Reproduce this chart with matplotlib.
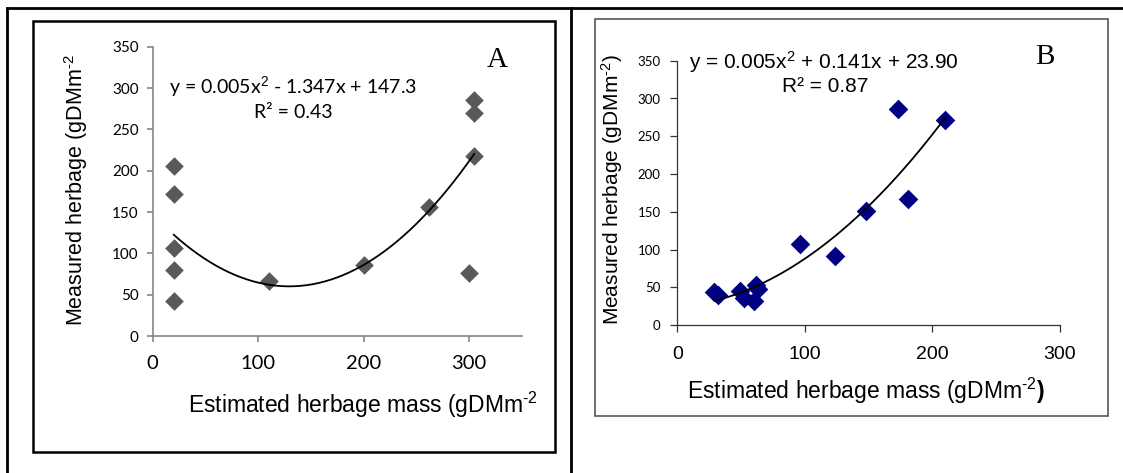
import matplotlib
matplotlib.use("Agg")
import matplotlib.pyplot as plt
import numpy as np
from matplotlib.patches import Rectangle
from matplotlib.lines import Line2D

plt.rcParams['font.family'] = ['Liberation Sans', 'DejaVu Sans']
plt.rcParams['mathtext.fontset'] = 'custom'
plt.rcParams['mathtext.rm'] = 'Liberation Sans'
plt.rcParams['mathtext.it'] = 'Liberation Sans:italic'
plt.rcParams['mathtext.bf'] = 'Liberation Sans:bold'

# panel A: estimated vs measured herbage
a_x = [20, 20, 20, 20, 20, 110, 200, 262, 300, 305, 305, 305]
a_y = [206, 172, 107, 80, 42, 66, 86, 156, 76, 285, 270, 218]
a_fit = [0.0052, -1.347, 147.3]
a_r2 = 0.43

# panel B
b_x = [29, 32, 49, 52, 60, 62, 63, 96, 124, 148, 173, 181, 210]
b_y = [44, 40, 45, 36, 32, 53, 48, 108, 92, 151, 286, 167, 271]
b_fit = [0.005, 0.141, 23.90]
b_r2 = 0.87

y_ticks = [0, 50, 100, 150, 200, 250, 300, 350]
a_xticks = [0, 100, 200, 300]
b_xticks = [0, 100, 200, 300]

W, H = 1123, 473
fig = plt.figure(figsize=(W / 100, H / 100), dpi=100)


def px(x, y):
    return x / W, 1 - y / H


def box(x0, y0, x1, y1):
    return [x0 / W, 1 - y1 / H, (x1 - x0) / W, (y1 - y0) / H]


unit = 'gDMm$^{\\text{-2}}$'

# table lines and the two chart frames
for xs, ys in [((7, W), (8, 8)), ((7, 7), (8, H)), ((571, 571), (8, H))]:
    fig.add_artist(Line2D([x / W for x in xs], [1 - y / H for y in ys],
                          color='black', lw=2, transform=fig.transFigure))
fig.add_artist(Rectangle(px(33, 452), 522 / W, 431 / H, fill=False,
                         ec='black', lw=1.8, transform=fig.transFigure))
fig.add_artist(Rectangle(px(595, 416), 513 / W, 397 / H, fill=False,
                         ec='#555555', lw=1.2, transform=fig.transFigure))

# ---- A ----
axA = fig.add_axes(box(152.7, 46.7, 521.6, 336))
axA.scatter(a_x, a_y, marker='D', s=90, color='#595959', zorder=3, lw=0)
xa = np.linspace(min(a_x), max(a_x), 200)
axA.plot(xa, np.polyval(a_fit, xa), color='black', lw=1.3, zorder=4)
axA.set_xlim(0, 350)
axA.set_ylim(0, 350)
axA.set_xticks(a_xticks)
axA.set_yticks(y_ticks)
for s in ['top', 'right']:
    axA.spines[s].set_visible(False)
for s in ['left', 'bottom']:
    axA.spines[s].set_color('#868686')
    axA.spines[s].set_linewidth(1.2)
axA.tick_params(axis='both', color='#868686', length=4, width=1.2)
axA.tick_params(axis='y', labelsize=11, pad=6)
axA.tick_params(axis='x', labelsize=14.5, pad=10)
for lab in axA.get_xticklabels() + axA.get_yticklabels():
    lab.set_family('Lato')

fig.text(*px(76, 190), f'Measured herbage ({unit}', rotation=90,
         ha='center', va='center', fontsize=15.5)
fig.text(*px(363, 405), f'Estimated herbage mass ({unit}',
         ha='center', va='center', fontsize=16.5)
eqA = f"y = {a_fit[0]:.3f}x$^2$ - {abs(a_fit[1]):.3f}x + {a_fit[2]:.1f}"
fig.text(*px(293, 87), eqA, ha='center', va='center', fontsize=14,
         family='Lato')
fig.text(*px(293, 112), f"R² = {a_r2:.2f}", ha='center', va='center',
         fontsize=14, family='Lato')
fig.text(*px(497, 60), 'A', ha='center', va='center', fontsize=21,
         family='Liberation Serif')

# ---- B ----
axB = fig.add_axes(box(677.3, 60.7, 1059.6, 325.3))
axB.scatter(b_x, b_y, marker='D', s=100, color='#000080', zorder=3, lw=0)
xb = np.linspace(30, max(b_x), 200)
axB.plot(xb, np.polyval(b_fit, xb), color='black', lw=1.3, zorder=4)
axB.set_xlim(0, 300)
axB.set_ylim(0, 350)
axB.set_xticks(b_xticks)
axB.set_yticks(y_ticks)
for s in ['top', 'right']:
    axB.spines[s].set_visible(False)
for s in ['left', 'bottom']:
    axB.spines[s].set_color('#333333')
    axB.spines[s].set_linewidth(0.9)
axB.tick_params(axis='both', color='#333333', length=5, width=0.9)
axB.tick_params(axis='y', labelsize=9.5, pad=7)
axB.tick_params(axis='x', labelsize=14, pad=10)
for lab in axB.get_yticklabels():
    lab.set_family('Lato')

fig.text(*px(612, 190), f'Measured herbage ({unit})', rotation=90,
         ha='center', va='center', fontsize=15)
fig.text(*px(866, 391), f'Estimated herbage mass ({unit}' + '$\\mathbf{)}$',
         ha='center', va='center', fontsize=16.5)
eqB = f"y = {b_fit[0]:.3f}x$^2$ + {b_fit[1]:.3f}x + {b_fit[2]:.2f}"
fig.text(*px(824, 62), eqB, ha='center', va='center', fontsize=15)
fig.text(*px(825, 87), f"R² = {b_r2:.2f}", ha='center', va='center',
         fontsize=15)
fig.text(*px(1045, 57), 'B', ha='center', va='center', fontsize=21,
         family='Liberation Serif')

fig.savefig('out.png', dpi=100)
